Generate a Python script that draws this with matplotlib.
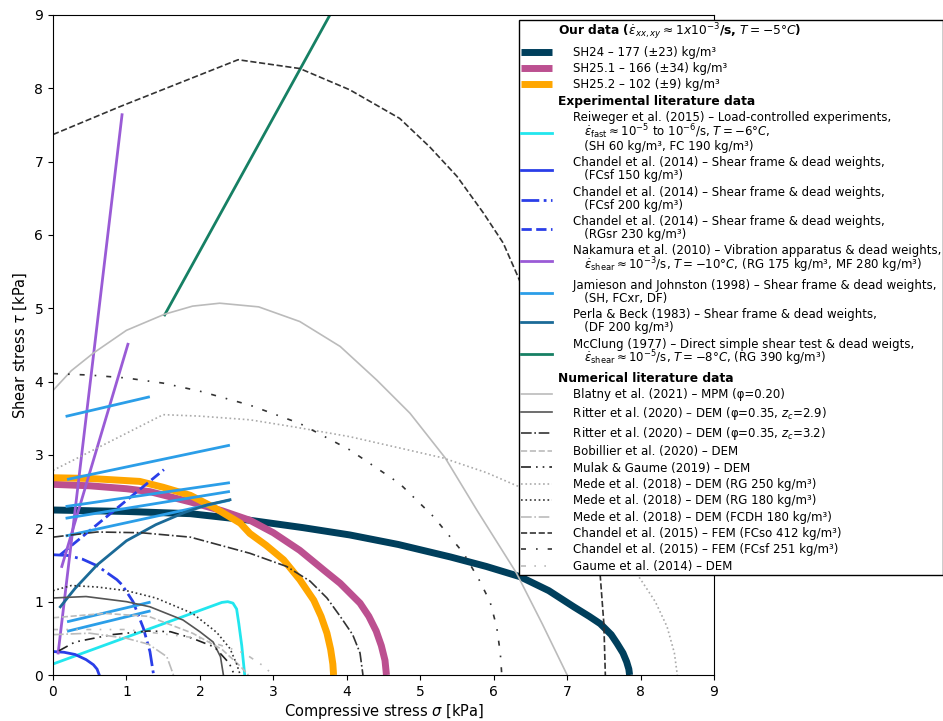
import matplotlib
matplotlib.use('Agg')
import matplotlib.pyplot as plt
from matplotlib.lines import Line2D

# ---- our data
sh24_x = [0, 1.0, 1.87, 2.68, 3.4, 4.04, 4.7, 5.41, 5.9, 6.36, 6.75, 7.09, 7.3, 7.45, 7.6, 7.68, 7.76, 7.81, 7.84, 7.85]
sh24_y = [2.25, 2.23, 2.2, 2.11, 2.01, 1.91, 1.78, 1.61, 1.48, 1.34, 1.15, 0.93, 0.8, 0.70, 0.55, 0.43, 0.3, 0.18, 0.08, 0]
sh251_x = [0, 0.5, 1.0, 1.32, 1.87, 2.3, 2.68, 3.0, 3.36, 3.7, 3.91, 4.18, 4.3, 4.4, 4.47, 4.52, 4.54]
sh251_y = [2.6, 2.58, 2.54, 2.5, 2.36, 2.24, 2.11, 1.94, 1.70, 1.42, 1.25, 0.98, 0.8, 0.6, 0.4, 0.2, 0]
sh252_x = [0, 0.5, 1.18, 1.5, 1.87, 2.2, 2.55, 2.68, 2.9, 3.14, 3.36, 3.55, 3.65, 3.73, 3.78, 3.81, 3.82]
sh252_y = [2.69, 2.68, 2.64, 2.56, 2.45, 2.28, 2.07, 1.93, 1.77, 1.57, 1.30, 1.02, 0.8, 0.57, 0.35, 0.15, 0]

# ---- experimental literature
reiw_x = [0.0, 2.3, 2.38, 2.45, 2.5, 2.53, 2.57, 2.6, 2.61]
reiw_y = [0.15, 0.99, 1.0, 0.98, 0.9, 0.7, 0.4, 0.1, 0]
ch14a_x = [0, 0.15, 0.3, 0.45, 0.55, 0.6, 0.63]
ch14a_y = [0.32, 0.31, 0.28, 0.21, 0.14, 0.08, 0]
ch14b_x = [0, 0.2, 0.4, 0.6, 0.87, 0.94, 1.09, 1.23, 1.32, 1.37]
ch14b_y = [1.64, 1.63, 1.58, 1.49, 1.30, 1.23, 1.0, 0.64, 0.32, 0]
ch14c_x = [0.1, 1.51]
ch14c_y = [1.64, 2.80]
naka_x = [[0.07, 0.94], [0.12, 1.02]]
naka_y = [[0.30, 7.64], [1.48, 4.51]]
jj_x = [[0.19, 1.30], [0.21, 2.39], [0.19, 2.39], [0.19, 2.39], [0.19, 2.39], [0.21, 1.31], [0.21, 1.31]]
jj_y = [[3.53, 3.79], [2.67, 3.13], [2.30, 2.62], [2.14, 2.50], [1.90, 2.38], [0.73, 0.99], [0.60, 0.87]]
perla_x = [0.1, 0.3, 0.6, 1.0, 1.4, 1.8, 2.1, 2.41]
perla_y = [0.93, 1.18, 1.5, 1.83, 2.05, 2.22, 2.32, 2.39]
mcc_x = [1.52, 3.77]
mcc_y = [4.91, 9.0]

# ---- numerical literature
blat_x = [0, 0.25, 0.55, 1.0, 1.52, 1.9, 2.27, 2.8, 3.36, 3.91, 4.41, 4.86, 5.34, 5.77, 6.31, 6.66, 7.0]
blat_y = [3.88, 4.15, 4.39, 4.7, 4.92, 5.03, 5.07, 5.02, 4.82, 4.48, 4.02, 3.57, 2.96, 2.25, 1.39, 0.7, 0]
rit29_x = [0, 0.45, 1.0, 1.32, 1.77, 2.0, 2.18, 2.28, 2.32]
rit29_y = [1.05, 1.07, 1.0, 0.93, 0.75, 0.59, 0.45, 0.25, 0]
rit32_x = [0, 0.6, 1.2, 1.87, 2.68, 3.18, 3.5, 3.73, 3.91, 4.08, 4.18, 4.22]
rit32_y = [1.88, 1.95, 1.94, 1.88, 1.66, 1.48, 1.28, 1.05, 0.8, 0.55, 0.3, 0]
bob_x = [0, 0.7, 1.3, 1.9, 2.3, 2.55, 2.66]
bob_y = [0.78, 0.84, 0.8, 0.57, 0.35, 0.12, 0]
mul_x = [0.08, 0.3, 0.8, 1.3, 1.6, 1.9, 2.2, 2.4, 2.47]
mul_y = [0.33, 0.45, 0.55, 0.6, 0.59, 0.5, 0.38, 0.16, 0]
m250_x = [0, 1.5, 2.0, 2.68, 3.3, 4.04, 4.7, 5.31, 5.9, 6.34, 7.0, 7.5, 7.99, 8.2, 8.36, 8.46, 8.5]
m250_y = [2.79, 3.55, 3.53, 3.48, 3.38, 3.25, 3.1, 2.96, 2.76, 2.57, 2.2, 1.85, 1.32, 1.0, 0.66, 0.3, 0]
m180_x = [0, 0.25, 0.6, 1.0, 1.4, 1.9, 2.23, 2.41, 2.5, 2.55]
m180_y = [1.15, 1.22, 1.2, 1.15, 1.05, 0.84, 0.58, 0.36, 0.15, 0]
mfc_x = [0, 0.5, 1.0, 1.3, 1.55, 1.64]
mfc_y = [0.55, 0.57, 0.5, 0.42, 0.25, 0]
ch15a_x = [0, 0.91, 2.52, 3.36, 4.04, 4.72, 5.13, 5.5, 5.86, 6.13, 6.34, 6.8, 7.1, 7.3, 7.45, 7.5, 7.52]
ch15a_y = [7.37, 7.75, 8.39, 8.27, 7.98, 7.59, 7.2, 6.8, 6.3, 5.89, 5.41, 4.3, 3.2, 2.2, 1.36, 0.7, 0]
ch15b_x = [0, 0.5, 1.0, 1.5, 2.0, 2.68, 3.36, 4.04, 4.72, 5.18, 5.59, 5.8, 5.95, 6.04, 6.09, 6.11]
ch15b_y = [4.11, 4.09, 4.05, 3.98, 3.87, 3.68, 3.43, 3.07, 2.61, 2.16, 1.66, 1.3, 1.0, 0.66, 0.3, 0]
gau_x = [0, 1.0, 2.0, 2.6, 2.9, 2.98]
gau_y = [0.62, 0.62, 0.5, 0.3, 0.1, 0]

fig = plt.figure(figsize=(9.43, 7.21), dpi=100)
ax = fig.add_axes([0.0562, 0.0638, 0.701, 0.9154])

# our data
h_sh24, = ax.plot(sh24_x, sh24_y, color='#003f5c', lw=5, solid_capstyle='butt')
h_sh251, = ax.plot(sh251_x, sh251_y, color='#bc5090', lw=5, solid_capstyle='butt')
h_sh252, = ax.plot(sh252_x, sh252_y, color='#ffa600', lw=5, solid_capstyle='butt')

# experimental
h_reiw, = ax.plot(reiw_x, reiw_y, color='#22e6ee', lw=2)
h_ch14a, = ax.plot(ch14a_x, ch14a_y, color='#2a3ee8', lw=2)
h_ch14b, = ax.plot(ch14b_x, ch14b_y, color='#2a3ee8', lw=2, ls='-.')
h_ch14c, = ax.plot(ch14c_x, ch14c_y, color='#2a3ee8', lw=2, ls='--')
for i in range(len(naka_x)):
    h_naka, = ax.plot(naka_x[i], naka_y[i], color='#9a5bd6', lw=2)
for i in range(len(jj_x)):
    h_jj, = ax.plot(jj_x[i], jj_y[i], color='#2b9ee8', lw=2)
h_perla, = ax.plot(perla_x, perla_y, color='#1b6a97', lw=2)
h_mcc, = ax.plot(mcc_x, mcc_y, color='#168064', lw=2)

# numerical
h_blat, = ax.plot(blat_x, blat_y, color='#bbbbbb', lw=1.2)
h_rit29, = ax.plot(rit29_x, rit29_y, color='#555555', lw=1.2)
h_rit32, = ax.plot(rit32_x, rit32_y, color='#333333', lw=1.2, ls='-.')
h_bob, = ax.plot(bob_x, bob_y, color='#bbbbbb', lw=1.2, ls='--')
h_mul, = ax.plot(mul_x, mul_y, color='#222222', lw=1.2, ls=(0, (6, 3, 1, 3, 1, 3)))
h_m250, = ax.plot(m250_x, m250_y, color='#aaaaaa', lw=1.2, ls=':')
h_m180, = ax.plot(m180_x, m180_y, color='#333333', lw=1.2, ls=':')
h_mfc, = ax.plot(mfc_x, mfc_y, color='#bbbbbb', lw=1.2, ls='-.')
h_ch15a, = ax.plot(ch15a_x, ch15a_y, color='#333333', lw=1.2, ls='--')
h_ch15b, = ax.plot(ch15b_x, ch15b_y, color='#333333', lw=1.2, ls=(0, (3, 6, 1, 6)))
h_gau, = ax.plot(gau_x, gau_y, color='#bbbbbb', lw=1.2, ls=(0, (3, 5, 1, 5, 1, 5)))

ax.set_xlim(0, 9)
ax.set_ylim(0, 9)
ax.set_xticks(range(10))
ax.set_yticks(range(10))
ax.tick_params(labelsize=10)
ax.set_xlabel('Compressive stress $\\sigma$ [kPa]', fontsize=10.5, labelpad=2)
ax.set_ylabel('Shear stress $\\tau$ [kPa]', fontsize=10.5)

blank = Line2D([], [], color='none')
handles = [blank, h_sh24, h_sh251, h_sh252,
           blank, h_reiw, h_ch14a, h_ch14b, h_ch14c, h_naka, h_jj, h_perla, h_mcc,
           blank, h_blat, h_rit29, h_rit32, h_bob, h_mul, h_m250, h_m180, h_mfc, h_ch15a, h_ch15b, h_gau]
labels = [
    'Our data ($\\dot{\\varepsilon}_{xx,xy} \\approx 1x10^{-3}$/s, $T = -5°C$)',
    '    SH24 – 177 (±23) kg/m³',
    '    SH25.1 – 166 (±34) kg/m³',
    '    SH25.2 – 102 (±9) kg/m³',
    'Experimental literature data',
    '    Reiweger et al. (2015) – Load-controlled experiments,\n'
    '       $\\dot{\\varepsilon}_\\mathrm{fast} \\approx 10^{-5}$ to $10^{-6}$/s, $T = -6°C$,\n'
    '       (SH 60 kg/m³, FC 190 kg/m³)',
    '    Chandel et al. (2014) – Shear frame & dead weights,\n       (FCsf 150 kg/m³)',
    '    Chandel et al. (2014) – Shear frame & dead weights,\n       (FCsf 200 kg/m³)',
    '    Chandel et al. (2014) – Shear frame & dead weights,\n       (RGsr 230 kg/m³)',
    '    Nakamura et al. (2010) – Vibration apparatus & dead weights,\n'
    '       $\\dot{\\varepsilon}_\\mathrm{shear} \\approx 10^{-3}$/s, $T = -10°C$, (RG 175 kg/m³, MF 280 kg/m³)',
    '    Jamieson and Johnston (1998) – Shear frame & dead weights,\n       (SH, FCxr, DF)',
    '    Perla & Beck (1983) – Shear frame & dead weights,\n       (DF 200 kg/m³)',
    '    McClung (1977) – Direct simple shear test & dead weigts,\n'
    '       $\\dot{\\varepsilon}_\\mathrm{shear} \\approx 10^{-5}$/s, $T = -8°C$, (RG 390 kg/m³)',
    'Numerical literature data',
    '    Blatny et al. (2021) – MPM (φ=0.20)',
    '    Ritter et al. (2020) – DEM (φ=0.35, $z_c$=2.9)',
    '    Ritter et al. (2020) – DEM (φ=0.35, $z_c$=3.2)',
    '    Bobillier et al. (2020) – DEM',
    '    Mulak & Gaume (2019) – DEM',
    '    Mede et al. (2018) – DEM (RG 250 kg/m³)',
    '    Mede et al. (2018) – DEM (RG 180 kg/m³)',
    '    Mede et al. (2018) – DEM (FCDH 180 kg/m³)',
    '    Chandel et al. (2015) – FEM (FCso 412 kg/m³)',
    '    Chandel et al. (2015) – FEM (FCsf 251 kg/m³)',
    '    Gaume et al. (2014) – DEM',
]
leg = ax.legend(handles, labels, loc='upper right', bbox_to_anchor=(1.0, 701 / 721),
                bbox_transform=fig.transFigure, fontsize=8.5, labelspacing=0.285,
                handlelength=2.6, handletextpad=0.5, borderpad=0.15, borderaxespad=0,
                fancybox=False, framealpha=1, edgecolor='black')
leg.get_frame().set_linewidth(1.0)
for t in leg.get_texts():
    s = t.get_text()
    if '\n' in s:
        t.set_linespacing(0.88 if '$' in s else 1.0)
for i in (0, 4, 13):
    leg.get_texts()[i].set_fontweight('bold')
    leg.get_texts()[i].set_fontsize(8.8)

fig.savefig('out.png', dpi=100)
